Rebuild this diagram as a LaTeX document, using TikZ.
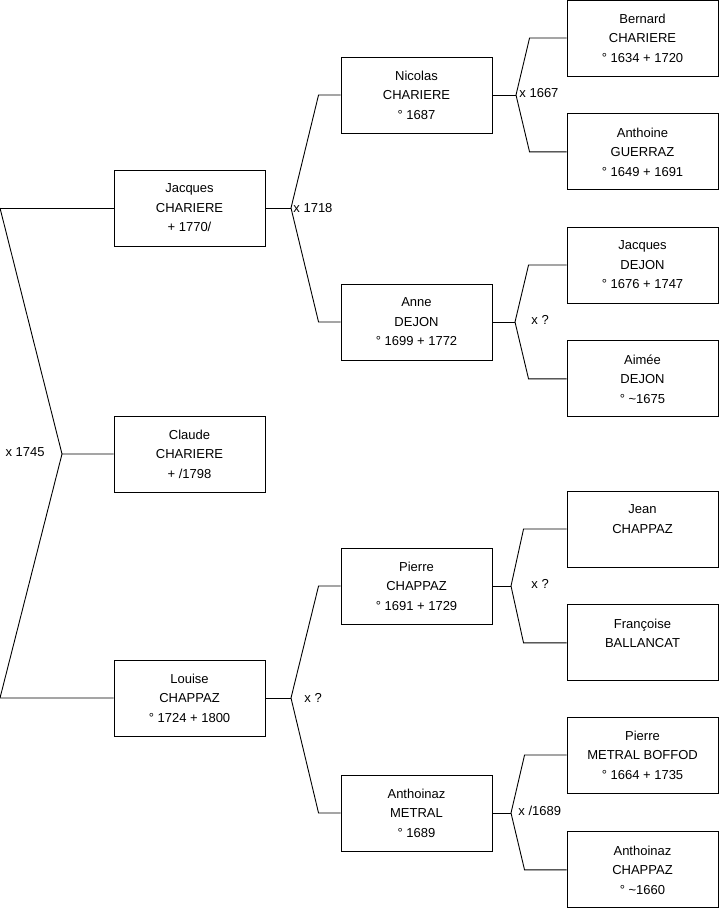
\documentclass[tikz,border=0pt]{standalone}
\usepackage{fontspec}
\setmainfont{Liberation Sans}
\usetikzlibrary{positioning}

\begin{document}
\begin{tikzpicture}[
  x=1pt, y=-1pt,
  line width=0.9pt,
  font=\fontsize{13}{19.5}\selectfont,
  person/.style={draw, align=center, inner sep=0pt, minimum width=151pt, minimum height=76pt},
  union/.style={inner sep=0pt},
]
  \useasboundingbox (0,0) rectangle (719,908);

  % generation 1
  \node[person] (jacques) at (189.5,208) {Jacques\\CHARIERE\\+ 1770/};
  \node[person] (claude) at (189.5,454) {Claude\\CHARIERE\\+ /1798};
  \node[person] (louise) at (189.5,698) {Louise\\CHAPPAZ\\° 1724 + 1800};

  % generation 2
  \node[person] (nicolas) at (416.5,95) {Nicolas\\CHARIERE\\° 1687};
  \node[person] (anne) at (416.5,322) {Anne\\DEJON\\° 1699 + 1772};
  \node[person] (pierre) at (416.5,586) {Pierre\\CHAPPAZ\\° 1691 + 1729};
  \node[person] (anthoinaz) at (416.5,813) {Anthoinaz\\METRAL\\° 1689};

  % generation 3
  \node[person] (bernard) at (642.5,38) {Bernard\\CHARIERE\\° 1634 + 1720};
  \node[person, below=37pt of bernard] (anthoine) {Anthoine\\GUERRAZ\\° 1649 + 1691};
  \node[person] (jacquesd) at (642.5,265) {Jacques\\DEJON\\° 1676 + 1747};
  \node[person, below=37pt of jacquesd] (aimee) {Aimée\\DEJON\\° \textasciitilde1675};
  \node[person] (jean) at (642.5,529) {Jean\\CHAPPAZ\\\mbox{}};
  \node[person, below=37pt of jean] (francoise) {Françoise\\BALLANCAT\\\mbox{}};
  \node[person] (pierrem) at (642.5,755) {Pierre\\METRAL BOFFOD\\° 1664 + 1735};
  \node[person, below=38pt of pierrem] (anthoinazc) {Anthoinaz\\CHAPPAZ\\° \textasciitilde1660};

  % marriage points
  \coordinate (top) at (0,208);
  \coordinate (bot) at (0,698);
  \coordinate (xc) at (62,454);
  \coordinate (xj) at (291,208);
  \coordinate (xl) at (291,698);
  \coordinate (xn) at (516,95);
  \coordinate (xa) at (515,322);
  \coordinate (xp) at (511,586);
  \coordinate (xm) at (511,813);

  \draw (top) -- (jacques.west);
  \draw (top) -- (xc) -- (claude.west);
  \draw (xc) -- (bot) -- (louise.west);

  \draw (jacques.east) -- (xj);
  \draw (xj) -- ([xshift=-22pt]nicolas.west) -- (nicolas.west);
  \draw (xj) -- ([xshift=-22pt]anne.west) -- (anne.west);
  \draw (louise.east) -- (xl);
  \draw (xl) -- ([xshift=-22pt]pierre.west) -- (pierre.west);
  \draw (xl) -- ([xshift=-22pt]anthoinaz.west) -- (anthoinaz.west);

  \draw (nicolas.east) -- (xn);
  \draw (xn) -- ([xshift=-37pt]bernard.west) -- (bernard.west);
  \draw (xn) -- ([xshift=-37pt]anthoine.west) -- (anthoine.west);
  \draw (anne.east) -- (xa);
  \draw (xa) -- ([xshift=-38pt]jacquesd.west) -- (jacquesd.west);
  \draw (xa) -- ([xshift=-38pt]aimee.west) -- (aimee.west);
  \draw (pierre.east) -- (xp);
  \draw (xp) -- ([xshift=-43pt]jean.west) -- (jean.west);
  \draw (xp) -- ([xshift=-43pt]francoise.west) -- (francoise.west);
  \draw (anthoinaz.east) -- (xm);
  \draw (xm) -- ([xshift=-42pt]pierrem.west) -- (pierrem.west);
  \draw (xm) -- ([xshift=-42pt]anthoinazc.west) -- (anthoinazc.west);

  % marriage labels
  \node[union, left=17pt of xc, yshift=2pt] (uc) {x 1745};
  \node[union, right=2pt of xj] (uj) {x 1718};
  \node[union, right=13pt of xl] (ul) {x ?};
  \node[union, right=3pt of xn, yshift=2pt] (un) {x 1667};
  \node[union, right=16pt of xa, yshift=2pt] (ua) {x ?};
  \node[union, right=20pt of xp, yshift=2pt] (up) {x ?};
  \node[union, right=7pt of xm, yshift=2pt] (um) {x /1689};
\end{tikzpicture}
\end{document}
